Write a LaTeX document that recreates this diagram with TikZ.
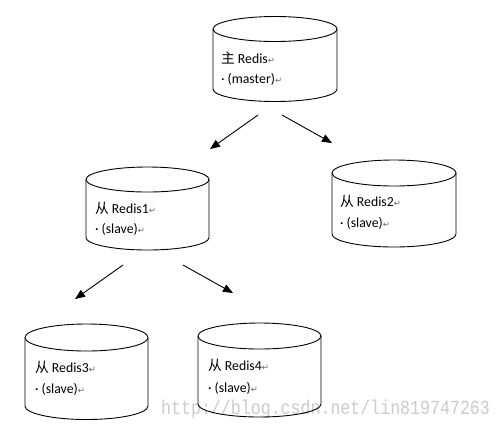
\documentclass[tikz,border=0pt]{standalone}
\usepackage{fontspec}
\setmainfont{Carlito}
\newfontfamily\cjk{Noto Sans CJK SC}
\newfontfamily\dvfont{DejaVu Sans}
\newfontfamily\wmfont{Liberation Mono}
\usetikzlibrary{arrows.meta}
\newcommand\retmark{{\dvfont\fontsize{8.5}{9}\selectfont\color{black!60}↵}}
\newcommand\drawcyl[5]{%
  \pgfmathsetmacro\cylcx{(#1+#2)/2}%
  \pgfmathsetmacro\cylrx{(#2-#1)/2}%
  \draw[cylline] (#1,-#3) -- (#1,-#4) arc[start angle=180,end angle=360,x radius=\cylrx,y radius=#5] -- (#2,-#3);
  \draw[cylline] (\cylcx,-#3) ellipse[x radius=\cylrx,y radius=#5];
}
\tikzset{
  cylline/.style={line width=0.9pt,black},
  lbl/.style={anchor=base west,inner sep=0pt,outer sep=0pt,font=\fontsize{13.8}{20}\selectfont},
  arr/.style={line width=0.9pt,-{Triangle[length=10pt,width=8pt]}},
  wm/.style={anchor=base west,inner sep=0pt,text=black!20,font=\wmfont\fontsize{20}{22}\selectfont}
}
\begin{document}
\begin{tikzpicture}[x=1pt,y=1pt]
\useasboundingbox (0,0) rectangle (502,-429);
\fill[white] (0,0) rectangle (502,-429);
% watermark
\node[wm] (wmark) at (161,-414) {\scalebox{0.83}[1]{http://blog.csdn.net/lin819747263}};
% cylinders
\drawcyl{213}{337}{29}{89}{12.5}
\drawcyl{86}{209}{179.5}{237.5}{12.5}
\drawcyl{332}{456}{173}{234}{13}
\drawcyl{25}{148}{337.5}{406}{13.5}
\drawcyl{198}{321}{336}{404}{13}
% labels
\node[lbl] (m1) at (221,-63.5) {{\cjk 主} Redis\retmark};
\node[lbl] (m2) at (221,-83.5) {· (master)\retmark};
\node[lbl] (r1a) at (95,-213.5) {{\cjk 从} Redis1\retmark};
\node[lbl] (r1b) at (95,-233.5) {· (slave)\retmark};
\node[lbl] (r2a) at (340,-206.5) {{\cjk 从} Redis2\retmark};
\node[lbl] (r2b) at (340,-227.5) {· (slave)\retmark};
\node[lbl] (r3a) at (35,-372.5) {{\cjk 从} Redis3\retmark};
\node[lbl] (r3b) at (35,-393.5) {· (slave)\retmark};
\node[lbl] (r4a) at (208,-370.5) {{\cjk 从} Redis4\retmark};
\node[lbl] (r4b) at (208,-392.5) {· (slave)\retmark};
% arrows
\coordinate (a1s) at (258,-115); \coordinate (a1e) at (210,-149);
\coordinate (a2s) at (282,-115); \coordinate (a2e) at (332,-143);
\coordinate (a3s) at (123,-265); \coordinate (a3e) at (75,-299);
\coordinate (a4s) at (183,-265); \coordinate (a4e) at (233,-293);
\draw[arr] (a1s) -- (a1e);
\draw[arr] (a2s) -- (a2e);
\draw[arr] (a3s) -- (a3e);
\draw[arr] (a4s) -- (a4e);
\end{tikzpicture}
\end{document}
